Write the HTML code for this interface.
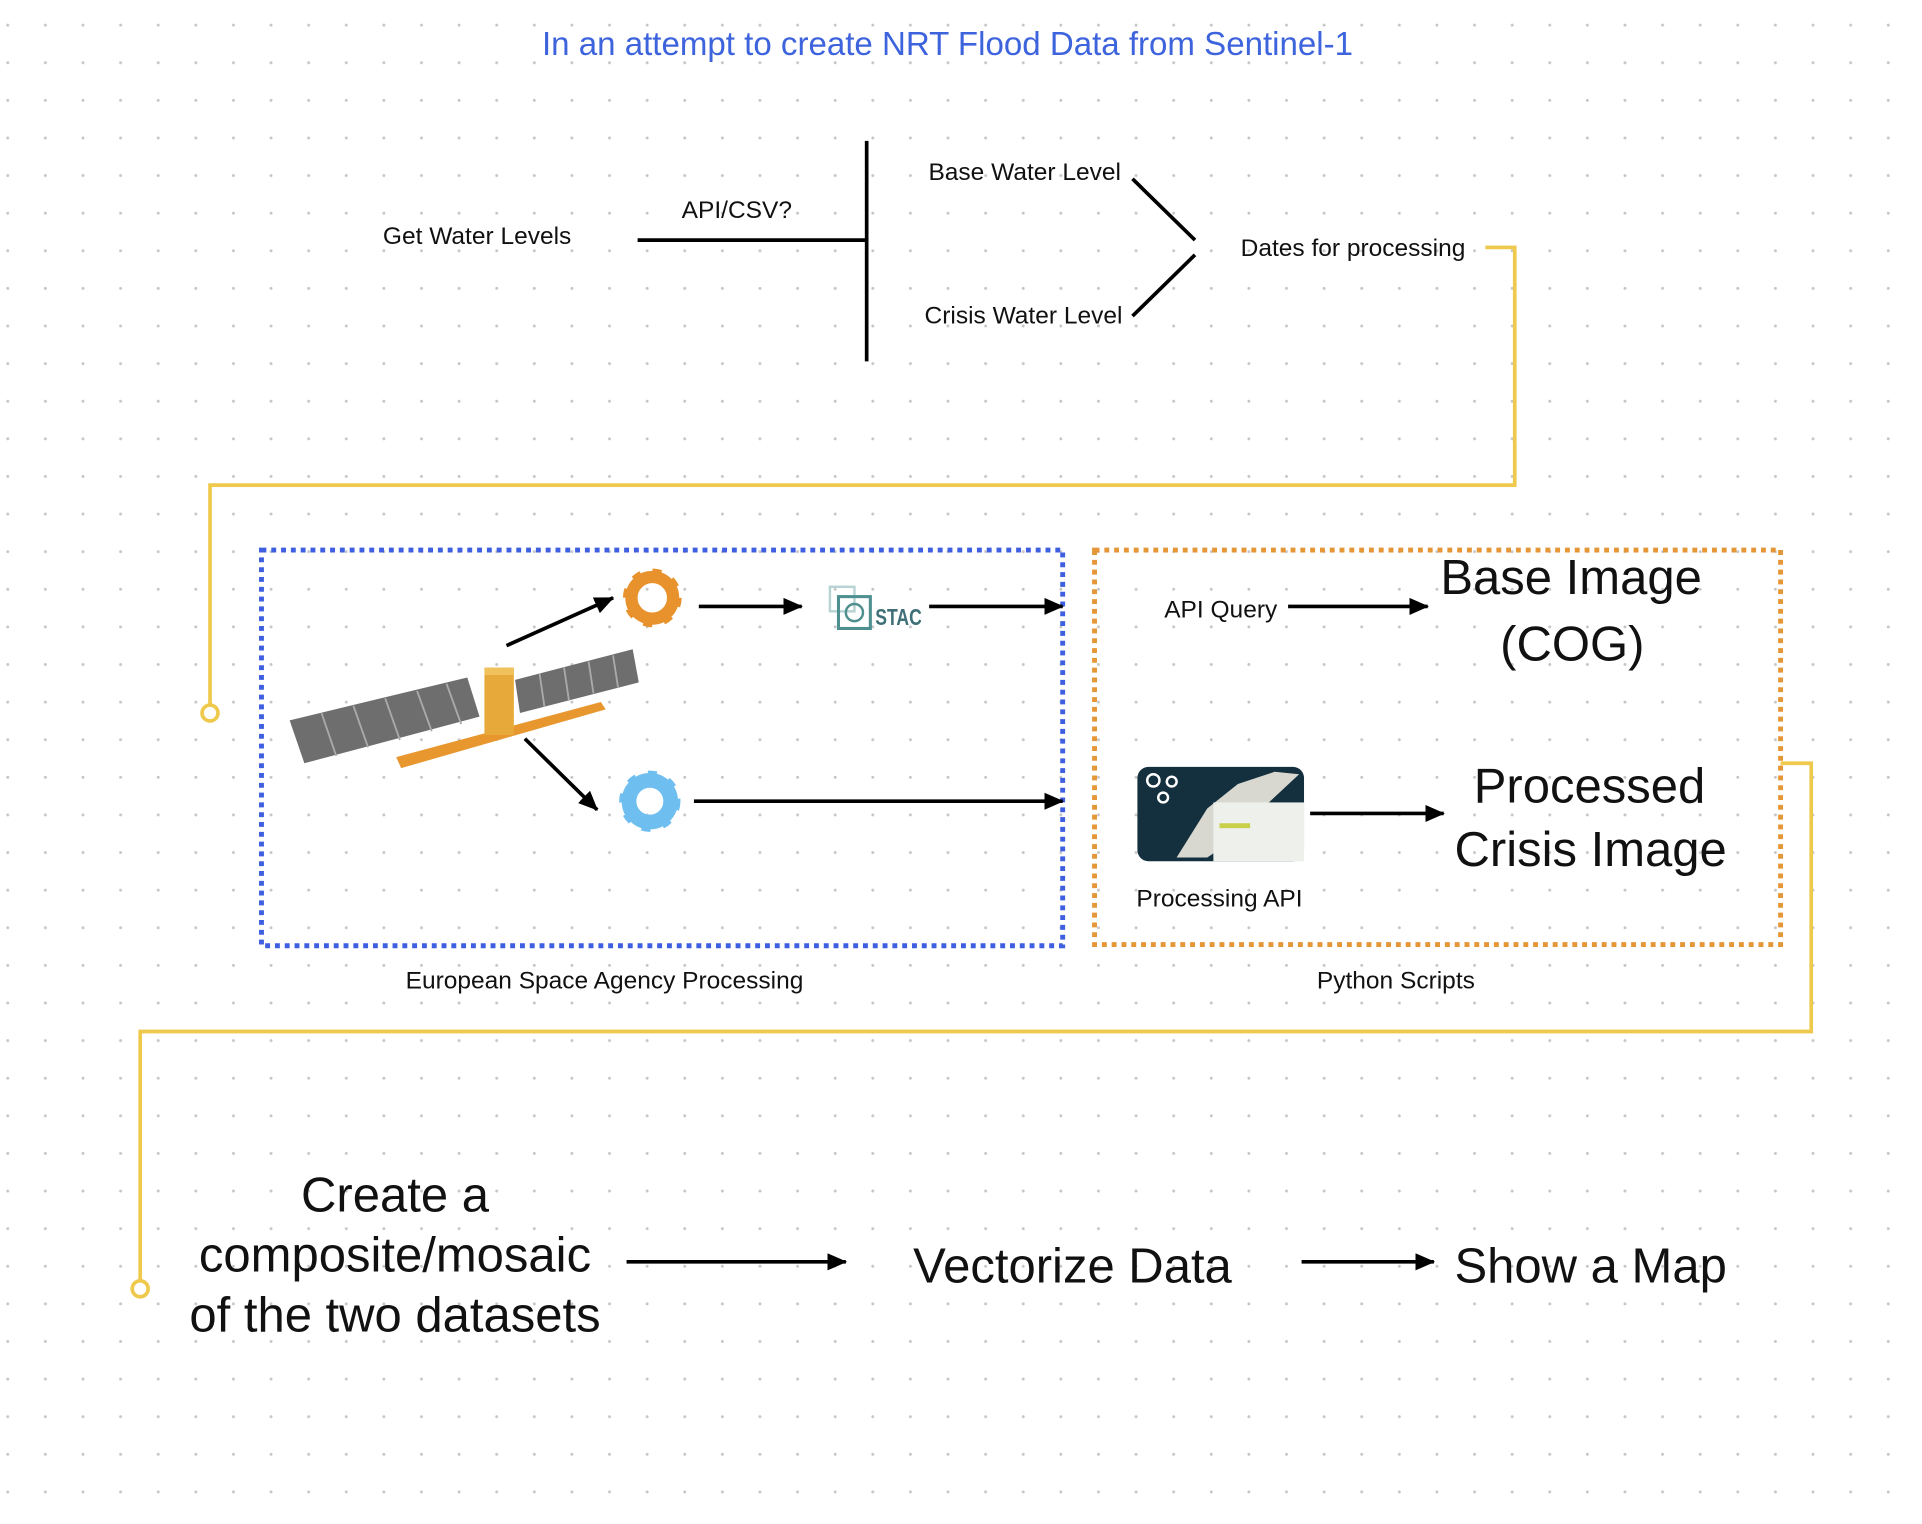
<!DOCTYPE html>
<html><head><meta charset="utf-8"><style>
html,body{margin:0;padding:0;background:#fff}
svg{display:block}
text{font-family:"Liberation Sans",sans-serif;fill:#111}
</style></head><body>
<svg width="1922" height="1524" viewBox="0 0 1568 1244" xmlns="http://www.w3.org/2000/svg">
<defs>
<pattern id="dots" width="30.7" height="30.7" patternUnits="userSpaceOnUse" x="4.4" y="19">
<circle cx="1.5" cy="1.5" r="1.2" fill="#c6c6c6"/>
</pattern>
<marker id="ah2" markerWidth="16" markerHeight="14" refX="15" refY="7" orient="auto" markerUnits="userSpaceOnUse">
<path d="M0,0 L16,7 L0,14 z" fill="#000"/>
</marker>
</defs>
<rect width="1568" height="1244" fill="#fff"/>
<rect width="1568" height="1244" fill="url(#dots)"/>

<text x="773" y="45" text-anchor="middle" font-size="27" style="fill:#3d63dd">In an attempt to create NRT Flood Data from Sentinel-1</text>

<text x="389" y="199" text-anchor="middle" font-size="20">Get Water Levels</text>
<text x="601" y="178" text-anchor="middle" font-size="20">API/CSV?</text>
<line x1="520" y1="196" x2="707" y2="196" stroke="#000" stroke-width="3"/>
<line x1="707" y1="115" x2="707" y2="295" stroke="#000" stroke-width="3"/>
<text x="836" y="147" text-anchor="middle" font-size="20">Base Water Level</text>
<text x="835" y="264" text-anchor="middle" font-size="20">Crisis Water Level</text>
<line x1="924" y1="146" x2="975" y2="196" stroke="#000" stroke-width="3"/>
<line x1="975" y1="208" x2="924" y2="258" stroke="#000" stroke-width="3"/>
<text x="1104" y="209" text-anchor="middle" font-size="20">Dates for processing</text>

<polyline points="1212,202 1236,202 1236,396 171,396 171,575" fill="none" stroke="#efc94c" stroke-width="3"/>
<circle cx="171" cy="582" r="6.5" fill="#fff" stroke="#efc94c" stroke-width="3"/>

<rect x="213" y="449" width="654" height="323" fill="none" stroke="#3d5fe0" stroke-width="4" stroke-dasharray="4 4"/>
<g>
<polygon points="236,588 381,553 391,585 248,623" fill="#6e6e6e"/>
<g stroke="#aaa" stroke-width="1.5"><line x1="262" y1="582" x2="274" y2="617"/><line x1="288" y1="576" x2="300" y2="610"/><line x1="314" y1="570" x2="326" y2="604"/><line x1="340" y1="564" x2="352" y2="597"/><line x1="364" y1="558" x2="376" y2="591"/></g>
<polygon points="420,555 516,530 521,557 424,582" fill="#6e6e6e"/>
<g stroke="#aaa" stroke-width="1.5"><line x1="440" y1="550" x2="444" y2="577"/><line x1="460" y1="545" x2="464" y2="572"/><line x1="480" y1="540" x2="484" y2="566"/><line x1="500" y1="535" x2="504" y2="561"/></g>
<polygon points="323,618 490,573 494,579 327,627" fill="#e8962e"/>
<rect x="395" y="545" width="24" height="55" fill="#e6a93a"/>
<rect x="395" y="545" width="24" height="6" fill="#f1c25c"/>
</g>
<line x1="413" y1="527" x2="500" y2="488" stroke="#000" stroke-width="3" marker-end="url(#ah2)"/>
<g>
<circle cx="532" cy="488" r="17" fill="none" stroke="#e8922e" stroke-width="10" />
<circle cx="532" cy="488" r="21" fill="none" stroke="#e8922e" stroke-width="6" stroke-dasharray="7 9.5"/>
</g>
<line x1="570" y1="495" x2="654" y2="495" stroke="#000" stroke-width="3" marker-end="url(#ah2)"/>
<g>
<rect x="677" y="479" width="20" height="20" fill="none" stroke="#b7d3d3" stroke-width="2"/>
<rect x="684" y="487" width="26" height="26" fill="none" stroke="#4e8f8f" stroke-width="2.5"/>
<circle cx="697" cy="500" r="7" fill="none" stroke="#4e8f8f" stroke-width="2"/>
<text x="714" y="510" font-size="19" font-weight="bold" style="fill:#3f6f78" textLength="38" lengthAdjust="spacingAndGlyphs">STAC</text>
</g>
<line x1="758" y1="495" x2="867" y2="495" stroke="#000" stroke-width="3" marker-end="url(#ah2)"/>
<line x1="428" y1="603" x2="487" y2="661" stroke="#000" stroke-width="3" marker-end="url(#ah2)"/>
<g>
<circle cx="530" cy="654" r="17" fill="none" stroke="#6ebff0" stroke-width="12"/>
<circle cx="530" cy="654" r="22" fill="none" stroke="#6ebff0" stroke-width="6" stroke-dasharray="7 10"/>
</g>
<line x1="566" y1="654" x2="867" y2="654" stroke="#000" stroke-width="3" marker-end="url(#ah2)"/>
<text x="493" y="807" text-anchor="middle" font-size="20">European Space Agency Processing</text>

<rect x="893" y="449" width="560" height="322" fill="none" stroke="#e59636" stroke-width="4" stroke-dasharray="4 4"/>
<text x="996" y="504" text-anchor="middle" font-size="20">API Query</text>
<line x1="1051" y1="495" x2="1165" y2="495" stroke="#000" stroke-width="3" marker-end="url(#ah2)"/>
<text x="1282" y="485" text-anchor="middle" font-size="40">Base Image</text>
<text x="1283" y="539" text-anchor="middle" font-size="40">(COG)</text>
<g>
<rect x="928" y="626" width="136" height="77" rx="9" fill="#14303f"/>
<path d="M960,700 L985,660 L1010,640 L1040,630 L1060,632 L1030,660 L1000,690 L985,700 z" fill="#d8d8d0"/>
<rect x="990" y="655" width="74" height="48" fill="#eef0ec"/>
<rect x="995" y="672" width="25" height="4" fill="#c8d04a"/>
<circle cx="941" cy="637" r="5" fill="none" stroke="#fff" stroke-width="2"/>
<circle cx="956" cy="638" r="4" fill="none" stroke="#fff" stroke-width="2"/>
<circle cx="949" cy="651" r="4" fill="none" stroke="#fff" stroke-width="2"/>
</g>
<line x1="1069" y1="664" x2="1178" y2="664" stroke="#000" stroke-width="3" marker-end="url(#ah2)"/>
<text x="1297" y="655" text-anchor="middle" font-size="40">Processed</text>
<text x="1298" y="707" text-anchor="middle" font-size="40">Crisis Image</text>
<text x="995" y="740" text-anchor="middle" font-size="20">Processing API</text>
<text x="1139" y="807" text-anchor="middle" font-size="20">Python Scripts</text>

<polyline points="1453,623 1478,623 1478,842 114,842 114,1045" fill="none" stroke="#efc94c" stroke-width="3"/>
<circle cx="114" cy="1052" r="6.5" fill="#fff" stroke="#efc94c" stroke-width="3"/>

<text x="322" y="989" text-anchor="middle" font-size="40">Create a</text>
<text x="322" y="1038" text-anchor="middle" font-size="40">composite/mosaic</text>
<text x="322" y="1087" text-anchor="middle" font-size="40">of the two datasets</text>
<line x1="511" y1="1030" x2="690" y2="1030" stroke="#000" stroke-width="3" marker-end="url(#ah2)"/>
<text x="875" y="1047" text-anchor="middle" font-size="40">Vectorize Data</text>
<line x1="1062" y1="1030" x2="1170" y2="1030" stroke="#000" stroke-width="3" marker-end="url(#ah2)"/>
<text x="1298" y="1047" text-anchor="middle" font-size="40">Show a Map</text>
</svg>
</body></html>
